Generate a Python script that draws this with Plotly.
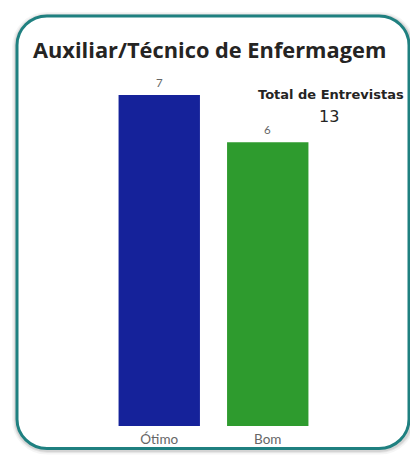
import plotly.graph_objects as go

categories = ["Ótimo", "Bom"]
values = [7, 6]
bar_colors = ["#15229a", "#2e9b2e"]
title_text = "Auxiliar/Técnico de Enfermagem"
total_label = "Total de Entrevistas"
total_value = 13

W, H = 410, 459
ML, MR, MT, MB = 105, 88, 95, 25
PW = W - ML - MR
PH = H - MT - MB


def px(x):
    return (x - ML) / PW


def py(y):
    return (H - MB - y) / PH


def rrect(x0, y0, x1, y1, r):
    k = 0.45 * r
    pts = [
        f"M {px(x0 + r)},{py(y0)}",
        f"L {px(x1 - r)},{py(y0)}",
        f"C {px(x1 - k)},{py(y0)} {px(x1)},{py(y0 + k)} {px(x1)},{py(y0 + r)}",
        f"L {px(x1)},{py(y1 - r)}",
        f"C {px(x1)},{py(y1 - k)} {px(x1 - k)},{py(y1)} {px(x1 - r)},{py(y1)}",
        f"L {px(x0 + r)},{py(y1)}",
        f"C {px(x0 + k)},{py(y1)} {px(x0)},{py(y1 - k)} {px(x0)},{py(y1 - r)}",
        f"L {px(x0)},{py(y0 + r)}",
        f"C {px(x0)},{py(y0 + k)} {px(x0 + k)},{py(y0)} {px(x0 + r)},{py(y0)}",
        "Z",
    ]
    return " ".join(pts)


fig = go.Figure()
fig.add_trace(go.Bar(
    x=categories, y=values,
    marker=dict(color=bar_colors, line=dict(width=0)),
    textposition="none", hoverinfo="skip",
    width=0.75,
))

shapes = []
for op, w in [(0.04, 10), (0.06, 7), (0.08, 5)]:
    shapes.append(dict(type="path", xref="paper", yref="paper",
                       path=rrect(17, 15, 410, 458, 30),
                       line=dict(color=f"rgba(0,0,0,{op})", width=w),
                       fillcolor="rgba(0,0,0,0)", layer="below"))
shapes.append(dict(type="path", xref="paper", yref="paper",
                   path=rrect(17, 14, 409, 457, 30),
                   line=dict(color="#1f8080", width=3),
                   fillcolor="white", layer="below"))

annotations = [
    dict(text=f"<b>{title_text}</b>", xref="paper", yref="paper",
         x=px(209), y=py(48), xanchor="center", yanchor="middle",
         showarrow=False, font=dict(family="Open Sans", size=21.8, color="#252423")),
    dict(text=f"<b>{total_label}</b>", xref="paper", yref="paper",
         x=px(331), y=py(94), xanchor="center", yanchor="middle",
         showarrow=False, font=dict(family="DejaVu Sans", size=13, color="#252423")),
    dict(text=str(total_value), xref="paper", yref="paper",
         x=px(329), y=py(117), xanchor="center", yanchor="middle",
         showarrow=False, font=dict(family="DejaVu Sans", size=16, color="#252423")),
]
for c, v in zip(categories, values):
    annotations.append(dict(text=str(v), x=c, y=v, xref="x", yref="y",
                            xanchor="center", yanchor="middle", yshift=13,
                            showarrow=False,
                            font=dict(family="Lato", size=11.5, color="#666666")))

fig.update_layout(
    width=W, height=H,
    margin=dict(l=ML, r=MR, t=MT, b=MB),
    paper_bgcolor="white", plot_bgcolor="rgba(0,0,0,0)",
    showlegend=False, bargap=0.25,
    shapes=shapes, annotations=annotations,
    xaxis=dict(showgrid=False, zeroline=False, showline=False, ticks="",
               ticklabelstandoff=3,
               tickfont=dict(family="Lato", size=13.5, color="#666666")),
    yaxis=dict(range=[0, 7], visible=False),
)

fig.write_html(
    "out.html",
    config={"displayModeBar": False, "staticPlot": True},
    post_script="document.body.style.margin='0';document.body.style.overflow='hidden';",
)
